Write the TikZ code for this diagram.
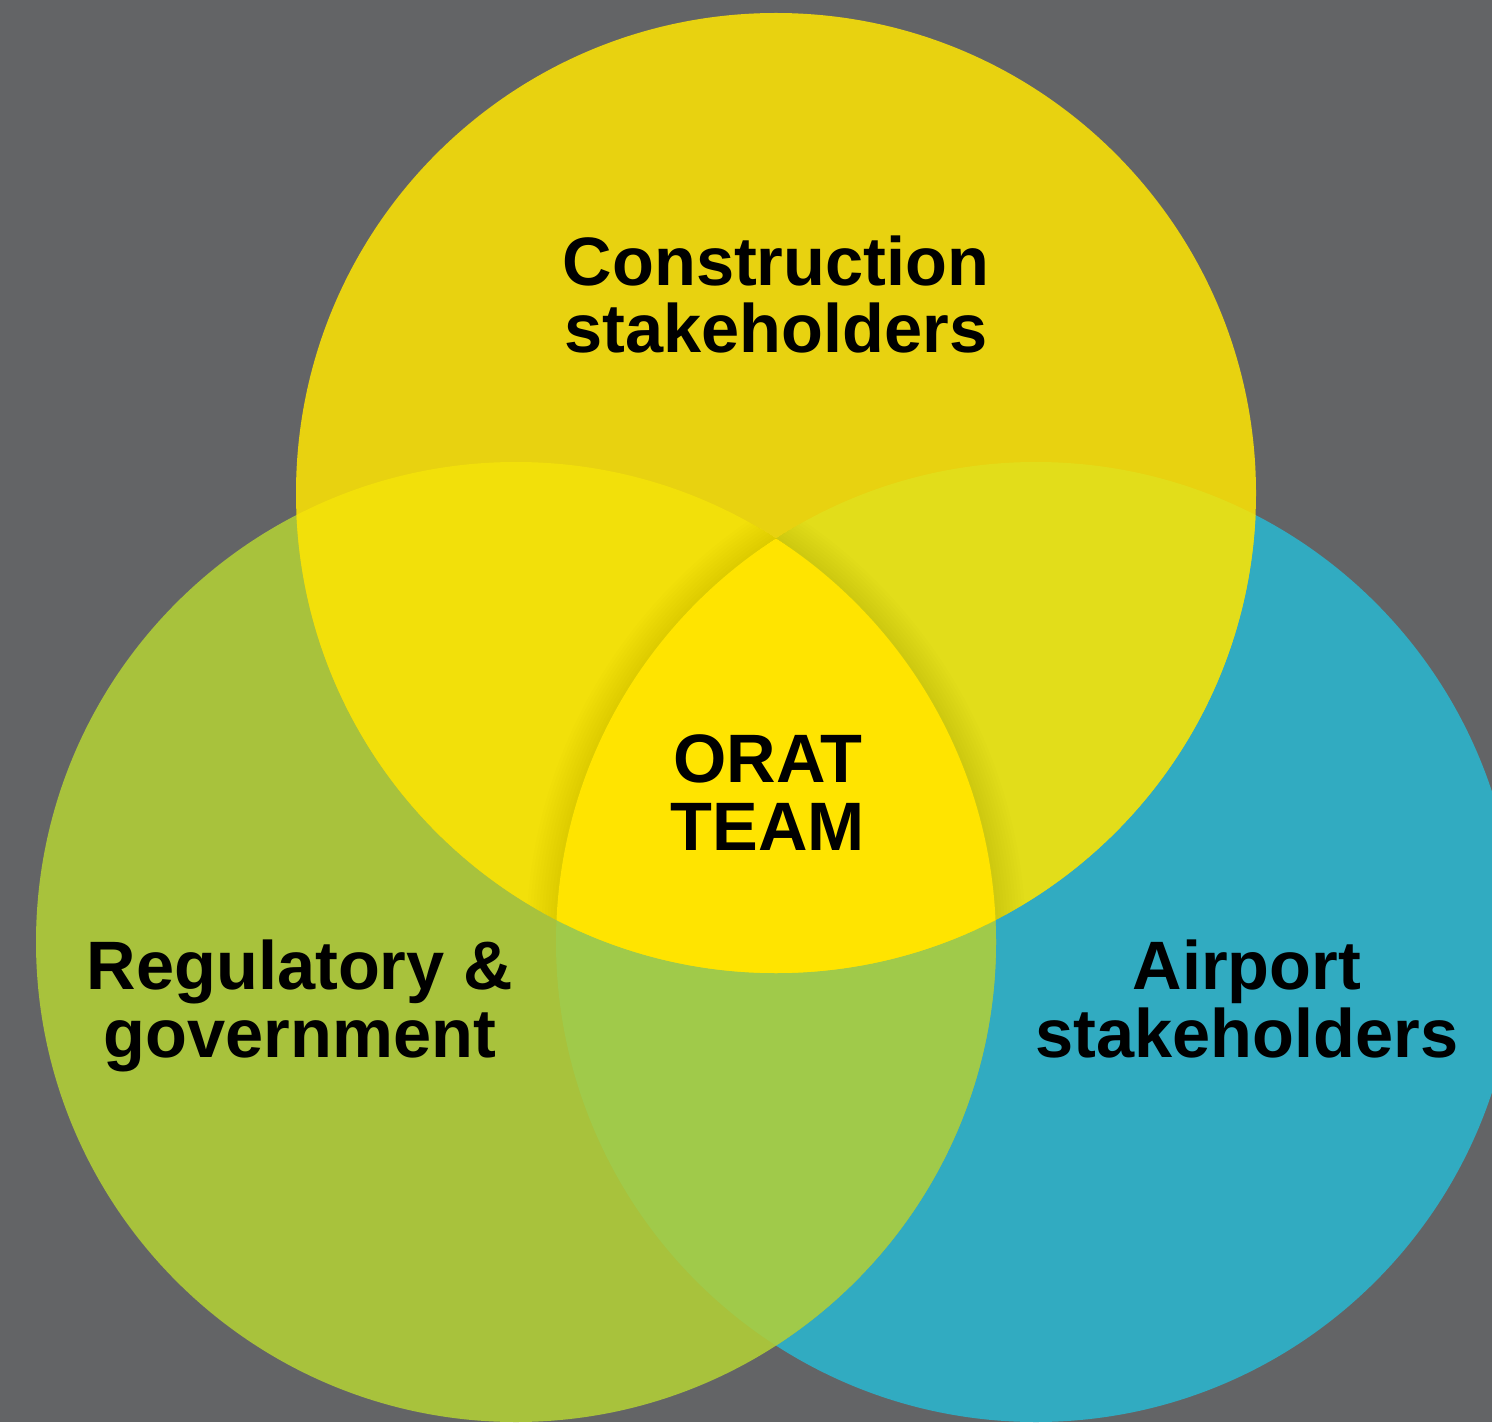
\documentclass[tikz,border=0pt]{standalone}
\usepackage{fontspec}
\setmainfont{Liberation Sans}

\definecolor{bggray}{HTML}{636466}
\definecolor{conyellow}{HTML}{E8D210}
\definecolor{reggreen}{HTML}{A8C23C}
\definecolor{airblue}{HTML}{31ABC1}
\definecolor{tlyellow}{HTML}{F2E00A}
\definecolor{tryellow}{HTML}{E2DD1A}
\definecolor{lrgreen}{HTML}{A0CA4A}
\definecolor{oratyellow}{HTML}{FFE400}

\tikzset{
    label text/.style={font=\fontsize{19.5}{19.1}\selectfont\bfseries, align=center, anchor=base, inner sep=0pt}
}

\begin{document}
\begin{tikzpicture}

    % constants
    \def\rad{4.8}

    % circle centres
    \coordinate (cons) at (7.76,9.29);
    \coordinate (regu) at (5.16,4.80);
    \coordinate (airp) at (10.36,4.80);

    % background
    \fill[bggray] (0,0) rectangle (14.92,14.22);
    \useasboundingbox (0,0) rectangle (14.92,14.22);

    % circles
    \fill[airblue] (airp) circle [radius=\rad];
    \fill[reggreen] (regu) circle [radius=\rad];
    \fill[conyellow] (cons) circle [radius=\rad];

    % overlaps
    \begin{scope}
        \clip (regu) circle [radius=\rad];
        \fill[lrgreen] (airp) circle [radius=\rad];
    \end{scope}
    \begin{scope}
        \clip (cons) circle [radius=\rad];
        \fill[tlyellow] (regu) circle [radius=\rad];
        \fill[tryellow] (airp) circle [radius=\rad];
    \end{scope}

    % soft shadow round the centre
    \begin{scope}
        \clip (cons) circle [radius=\rad];
        \clip (regu) circle [radius=\rad];
        \foreach \w in {1,...,10}
            \draw[black, opacity=0.008, line width=\w*0.6mm] (airp) circle [radius=\rad];
    \end{scope}
    \begin{scope}
        \clip (cons) circle [radius=\rad];
        \clip (airp) circle [radius=\rad];
        \foreach \w in {1,...,10}
            \draw[black, opacity=0.008, line width=\w*0.6mm] (regu) circle [radius=\rad];
    \end{scope}

    % centre
    \begin{scope}
        \clip (cons) circle [radius=\rad];
        \clip (regu) circle [radius=\rad];
        \fill[oratyellow] (airp) circle [radius=\rad];
    \end{scope}

    % labels (base = baseline of the last line)
    \node[label text] (construction) at (7.76,10.69) {Construction\\stakeholders};
    \node[label text] (orat) at (7.68,5.72) {ORAT\\TEAM};
    \node[label text] (regulatory) at (3.00,3.65) {Regulatory \&\\government};
    \node[label text] (airport) at (12.47,3.65) {Airport\\stakeholders};

\end{tikzpicture}
\end{document}
